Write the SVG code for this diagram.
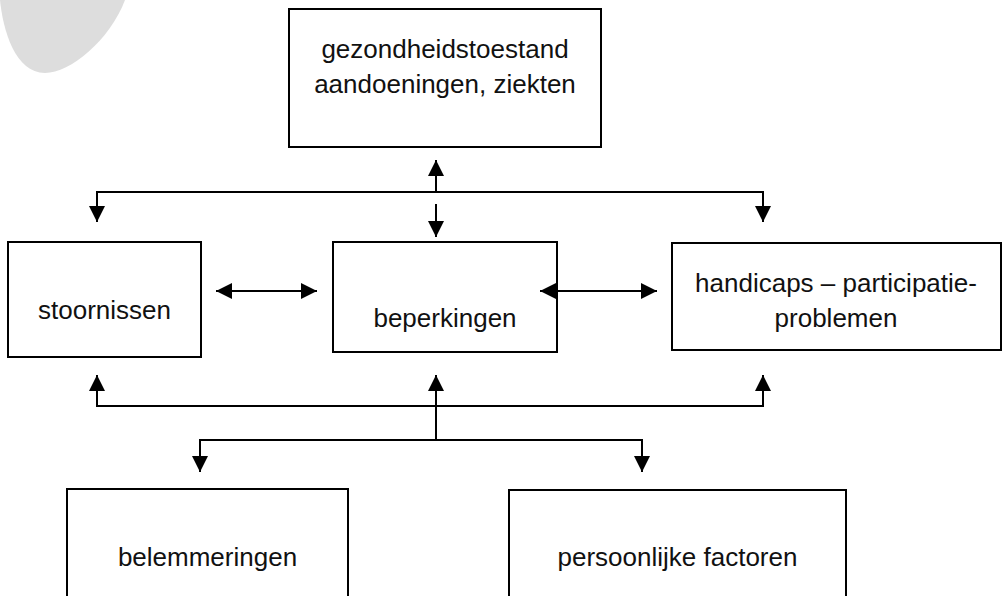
<svg xmlns="http://www.w3.org/2000/svg" width="1003" height="596" viewBox="0 0 1003 596">
<style>
.box{fill:#fff;stroke:#000;stroke-width:2}
.t{font-family:"Liberation Sans",Arial,sans-serif;font-size:26px;fill:#111;text-anchor:middle}
.c{fill:none;stroke:#000;stroke-width:2}
</style>
<defs>
<marker id="ah" markerUnits="userSpaceOnUse" markerWidth="16" markerHeight="16" refX="16" refY="8" orient="auto-start-reverse" viewBox="0 0 16 16">
<path d="M0,0 L16,8 L0,16 Z" fill="#000"/>
</marker>
</defs>
<rect width="1003" height="596" fill="#fff"/>
<path d="M0,0 C3,30 15,73 45,73 C70,73 110,40 125,0 Z" fill="#dddddd"/>
<g id="gezondheidstoestand">
<rect class="box" x="289" y="9" width="312" height="138"/>
<text class="t" x="445" y="58">gezondheidstoestand</text>
<text class="t" x="445" y="93">aandoeningen, ziekten</text>
</g>
<g id="stoornissen">
<rect class="box" x="8" y="242" width="193" height="115"/>
<text class="t" x="104.5" y="319">stoornissen</text>
</g>
<g id="beperkingen">
<rect class="box" x="333" y="242" width="224" height="110"/>
<text class="t" x="445" y="327">beperkingen</text>
</g>
<g id="handicaps">
<rect class="box" x="672" y="243" width="329" height="107"/>
<text class="t" x="836" y="292">handicaps – participatie-</text>
<text class="t" x="836" y="327">problemen</text>
</g>
<g id="belemmeringen">
<rect class="box" x="67" y="489" width="281" height="130"/>
<text class="t" x="207.5" y="566">belemmeringen</text>
</g>
<g id="persoonlijke">
<rect class="box" x="509" y="490" width="337" height="130"/>
<text class="t" x="677.5" y="566">persoonlijke factoren</text>
</g>
<g id="connectors">
<line class="c" x1="436" y1="192" x2="436" y2="160" marker-end="url(#ah)"/>
<path class="c" d="M97,222 V192 H763 V222" marker-start="url(#ah)" marker-end="url(#ah)"/>
<line class="c" x1="436" y1="204" x2="436" y2="237" marker-end="url(#ah)"/>
<line class="c" x1="216" y1="291" x2="317" y2="291" marker-start="url(#ah)" marker-end="url(#ah)"/>
<line class="c" x1="540" y1="291" x2="657" y2="291" marker-start="url(#ah)" marker-end="url(#ah)"/>
<path class="c" d="M97,375 V406 H763 V375" marker-start="url(#ah)" marker-end="url(#ah)"/>
<line class="c" x1="436" y1="440" x2="436" y2="375" marker-end="url(#ah)"/>
<path class="c" d="M200,472 V440 H642 V472" marker-start="url(#ah)" marker-end="url(#ah)"/>
</g>
</svg>
